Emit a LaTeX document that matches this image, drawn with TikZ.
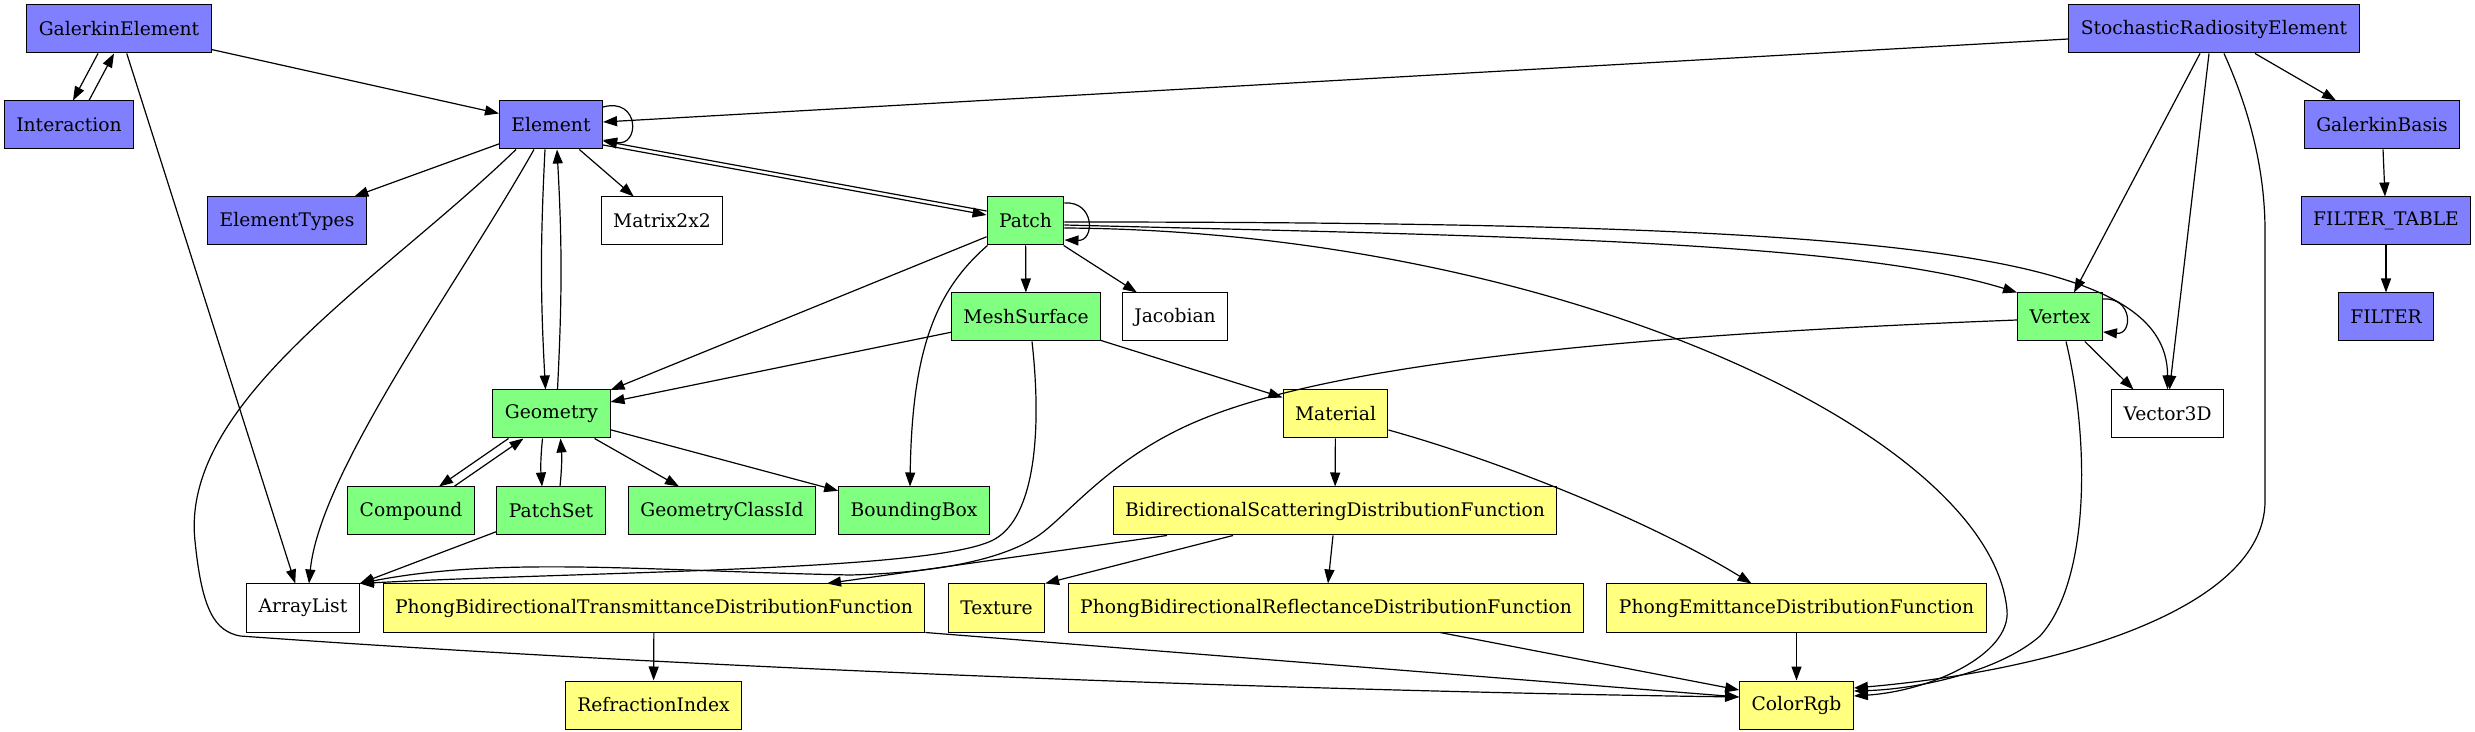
\documentclass[tikz,border=0pt]{standalone}
\usepackage{fontspec}
\setmainfont{DejaVu Serif}
\usetikzlibrary{arrows.meta}
\definecolor{elemblue}{RGB}{128,128,255}
\definecolor{geomgreen}{RGB}{128,255,128}
\definecolor{matyellow}{RGB}{255,255,128}
\begin{document}
\begin{tikzpicture}[>={Triangle[length=14pt,width=10pt]},x=1pt,y=1pt,line width=1.2pt,
    cls/.style={draw,line width=1pt,minimum height=48pt,inner xsep=12pt,inner ysep=0pt,
        font=\fontsize{18.7}{22}\selectfont},
    blue cls/.style={cls,fill=elemblue},
    green cls/.style={cls,fill=geomgreen},
    yellow cls/.style={cls,fill=matyellow},
    plain cls/.style={cls,fill=white}]
    \useasboundingbox (0,0) rectangle (2475,731);
    % row 0 and 1
    \node[blue cls] (GalerkinElement) at (119,702) {GalerkinElement};
    \node[blue cls] (StochasticRadiosityElement) at (2214,702) {StochasticRadiosityElement};
    \node[blue cls] (Interaction) at (69,606) {Interaction};
    \node[blue cls] (Element) at (551,606) {Element};
    \node[blue cls] (GalerkinBasis) at (2382,606) {GalerkinBasis};
    % row 2 and 3
    \node[blue cls] (ElementTypes) at (287,510) {ElementTypes};
    \node[plain cls] (Matrix2x2) at (662,510) {Matrix2x2};
    \node[green cls] (Patch) at (1025.5,510) {Patch};
    \node[blue cls] (FilterTable) at (2386,510) {FILTER\_TABLE};
    \node[green cls] (MeshSurface) at (1026,414) {MeshSurface};
    \node[plain cls] (Jacobian) at (1175,414) {Jacobian};
    \node[green cls] (Vertex) at (2060,414) {Vertex};
    \node[blue cls] (Filter) at (2386,414) {FILTER};
    % row 4 and 5
    \node[green cls] (Geometry) at (551.5,317) {Geometry};
    \node[yellow cls] (Material) at (1335.5,317) {Material};
    \node[plain cls] (Vector3D) at (2167.5,317) {Vector3D};
    \node[green cls] (Compound) at (411,220) {Compound};
    \node[green cls] (PatchSet) at (551,220) {PatchSet};
    \node[green cls] (GeometryClassId) at (722,220) {GeometryClassId};
    \node[green cls] (BoundingBox) at (914,220) {BoundingBox};
    \node[yellow cls] (BSDF) at (1335,220) {BidirectionalScatteringDistributionFunction};
    % row 6 and 7
    \node[plain cls] (ArrayList) at (303,123) {ArrayList};
    \node[yellow cls] (PhongBTDF) at (654,123) {PhongBidirectionalTransmittanceDistributionFunction};
    \node[yellow cls] (Texture) at (996.5,123) {Texture};
    \node[yellow cls] (PhongBRDF) at (1326,123) {PhongBidirectionalReflectanceDistributionFunction};
    \node[yellow cls] (PhongEDF) at (1796.5,123) {PhongEmittanceDistributionFunction};
    \node[yellow cls] (RefractionIndex) at (653.5,26) {RefractionIndex};
    \node[yellow cls] (ColorRgb) at (1796.5,26) {ColorRgb};

    % GalerkinElement, Interaction
    \draw[->] ([xshift=-21pt]GalerkinElement.south) -- ([xshift=4pt]Interaction.north);
    \draw[->] ([xshift=20pt]Interaction.north) -- ([xshift=-5pt]GalerkinElement.south);
    \draw[->] (GalerkinElement) -- (Element);
    \draw[->] (GalerkinElement) -- (ArrayList);
    % Element
    \draw[->] ([yshift=18pt]Element.east) .. controls (640,634) and (640,584) .. ([yshift=-15pt]Element.east);
    \draw[->] ([yshift=-20pt]Element.east) -- ([yshift=6pt]Patch.west);
    \draw[->] ([yshift=10pt]Patch.west) -- ([yshift=-16pt]Element.east);
    \draw[->] (Element) -- (ElementTypes);
    \draw[->] (Element) -- (Matrix2x2);
    \draw[->] ([xshift=-6pt]Element.south) to[bend right=3] ([xshift=-6pt]Geometry.north);
    \draw[->] ([xshift=6pt]Geometry.north) to[bend right=3] ([xshift=6pt]Element.south);
    \draw[->] ([xshift=-17pt]Element.south) .. controls (460,450) and (320,260) .. ([xshift=6pt]ArrayList.north);
    \draw[->] ([xshift=-35pt]Element.south) .. controls (380,450) and (180,330) .. (195,190)
        .. controls (202,120) and (215,100) .. (240,95)
        .. controls (700,62) and (1300,40) .. ([yshift=8pt]ColorRgb.west);
    % Patch
    \draw[->] ([yshift=18pt]Patch.east) .. controls (1095,530) and (1095,490) .. ([yshift=-19pt]Patch.east);
    \draw[->] (Patch) -- (MeshSurface);
    \draw[->] (Patch) -- (Jacobian);
    \draw[->] (Patch) -- (Geometry);
    \draw[->] ([xshift=-38pt]Patch.south) .. controls (935,440) and (912,380) .. ([xshift=-4pt]BoundingBox.north);
    \draw[->] ([yshift=-4pt]Patch.east) .. controls (1500,495) and (1850,490) .. (Vertex.north west);
    \draw[->] ([yshift=-1pt]Patch.east) .. controls (1900,509) and (2168,480) .. (Vector3D.north);
    \draw[->] ([yshift=-7pt]Patch.east) .. controls (1550,500) and (1990,300) .. (2007,121)
        .. controls (2011,76) and (1930,40) .. ([yshift=9pt]ColorRgb.east);
    % StochasticRadiosityElement
    \draw[->] ([yshift=-10pt]StochasticRadiosityElement.west) -- ([yshift=3pt]Element.east);
    \draw[->] ([xshift=-14pt]StochasticRadiosityElement.south) -- ([xshift=14pt]Vertex.north);
    \draw[->] ([xshift=-5pt]StochasticRadiosityElement.south) -- ([xshift=2pt]Vector3D.north);
    \draw[->] ([xshift=10pt]StochasticRadiosityElement.south) .. controls (2250,620) and (2265,560) .. (2265,500)
        -- (2265,230) .. controls (2265,120) and (2050,60) .. ([yshift=17pt]ColorRgb.east);
    \draw[->] ([xshift=41pt]StochasticRadiosityElement.south) -- ([xshift=-46pt]GalerkinBasis.north);
    \draw[->] (GalerkinBasis) -- (FilterTable);
    \draw[->] (FilterTable) -- (Filter);
    % MeshSurface
    \draw[->] (MeshSurface) -- (Geometry);
    \draw[->] (MeshSurface) -- (Material);
    \draw[->] ([xshift=6pt]MeshSurface.south) .. controls (1042,300) and (1035,215) .. (995,192)
        .. controls (940,160) and (600,160) .. (ArrayList.north east);
    % Vertex
    \draw[->] ([yshift=18pt]Vertex.east) .. controls (2133,434) and (2133,396) .. ([yshift=-15pt]Vertex.east);
    \draw[->] (Vertex) -- ([xshift=-34pt]Vector3D.north);
    \draw[->] ([yshift=-3pt]Vertex.west) .. controls (1600,395) and (1330,365) .. (1200,311)
        .. controls (1120,278) and (1077,227) .. (1047,202)
        .. controls (1010,170) and (930,158) .. (850,156)
        .. controls (650,160) and (500,175) .. (ArrayList.north east);
    \draw[->] ([xshift=6pt]Vertex.south) .. controls (2090,290) and (2090,150) .. (2040,95)
        .. controls (2000,60) and (1920,42) .. ([yshift=14pt]ColorRgb.east);
    % Geometry
    \draw[->] ([xshift=-43pt]Geometry.south) -- ([xshift=28pt]Compound.north);
    \draw[->] ([xshift=43pt]Compound.north) -- ([xshift=-28pt]Geometry.south);
    \draw[->] ([xshift=-9pt]Geometry.south) to[bend right=5] ([xshift=-9pt]PatchSet.north);
    \draw[->] ([xshift=9pt]PatchSet.north) to[bend right=5] ([xshift=9pt]Geometry.south);
    \draw[->] (Geometry) -- (GeometryClassId);
    \draw[->] (Geometry) -- (BoundingBox);
    \draw[->] (PatchSet) -- (ArrayList.north east);
    % Material
    \draw[->] (Material) -- (BSDF);
    \draw[->] ([yshift=-16pt]Material.east) .. controls (1500,270) and (1650,210) .. ([xshift=-45pt]PhongEDF.north);
    \draw[->] ([xshift=-168pt]BSDF.south) -- ([xshift=173pt]PhongBTDF.north);
    \draw[->] ([xshift=-102pt]BSDF.south) -- (Texture.north east);
    \draw[->] ([xshift=-2pt]BSDF.south) -- ([xshift=2pt]PhongBRDF.north);
    % into ColorRgb
    \draw[->] (PhongBTDF) -- (RefractionIndex);
    \draw[->] (PhongBTDF.south east) -- ([yshift=8pt]ColorRgb.west);
    \draw[->] ([xshift=114pt]PhongBRDF.south) -- ([yshift=15pt]ColorRgb.west);
    \draw[->] (PhongEDF) -- (ColorRgb);
\end{tikzpicture}
\end{document}
